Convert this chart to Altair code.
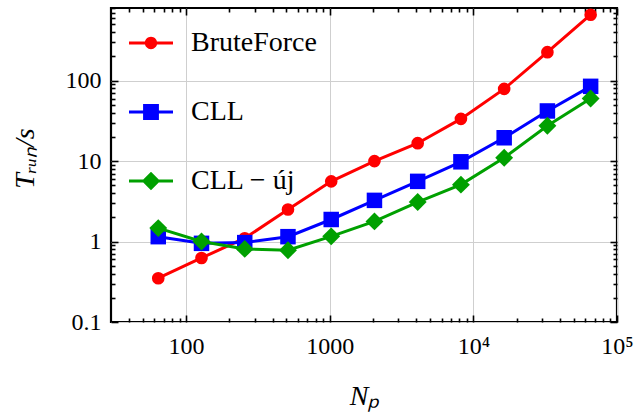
import altair as alt
import pandas as pd

# ---- data ----
n_p = [64, 128, 256, 512, 1024, 2048, 4096, 8192, 16384, 32768, 65536]
brute_force = [0.35, 0.625, 1.1, 2.5, 5.6, 10.0, 16.7, 33.5, 79.0, 226.0, 660.0]
cll = [1.15, 0.95, 0.97, 1.15, 1.88, 3.25, 5.6, 9.8, 19.5, 42.0, 85.0]
cll_uj = [1.47, 1.0, 0.81, 0.78, 1.16, 1.78, 3.1, 5.1, 11.0, 27.5, 60.0]

series_names = ["BruteForce", "CLL", "CLL − új"]
series_values = [brute_force, cll, cll_uj]
series_colors = ["#ff0000", "#0000ff", "#00a000"]
series_shapes = ["circle", "square", "diamond"]
marker_sizes = [160, 240, 320]

x_domain = [30, 100000]
y_domain = [0.1, 800]
x_major = [100, 1000, 10000, 100000]
x_major_labels = ["100", "1000", "10⁴", "10⁵"]
x_minor = [40, 50, 60, 70, 80, 90, 200, 300, 400, 500, 600, 700, 800, 900,
           2000, 3000, 4000, 5000, 6000, 7000, 8000, 9000,
           20000, 30000, 40000, 50000, 60000, 70000, 80000, 90000]
y_major = [0.1, 1, 10, 100]
y_major_labels = ["0.1", "1", "10", "100"]
y_minor = [0.2, 0.3, 0.4, 0.5, 0.6, 0.7, 0.8, 0.9,
           2, 3, 4, 5, 6, 7, 8, 9,
           20, 30, 40, 50, 60, 70, 80, 90,
           200, 300, 400, 500, 600, 700, 800]

# legend symbols: line segment + marker (custom SVG paths, unit = half symbol width)
legend_paths = [
    "M-1,-0.07L1,-0.07L1,0.07L-1,0.07Z"
    "M0.28,0A0.28,0.28 0 1,1 -0.28,0A0.28,0.28 0 1,1 0.28,0Z",
    "M-1,-0.07L1,-0.07L1,0.07L-1,0.07Z"
    "M-0.36,-0.36L0.36,-0.36L0.36,0.36L-0.36,0.36Z",
    "M-1,-0.07L1,-0.07L1,0.07L-1,0.07Z"
    "M0,-0.42L0.42,0L0,0.42L-0.42,0Z",
]

rows = []
for name, vals in zip(series_names, series_values):
    for n, t in zip(n_p, vals):
        rows.append({"n": n, "t": t, "series": name})
df = pd.DataFrame(rows)

FONT = "Liberation Serif"
xs = alt.Scale(type="log", domain=x_domain, nice=False)
ys = alt.Scale(type="log", domain=y_domain, nice=False)


def label_expr(values, labels):
    expr = "''"
    for v, l in reversed(list(zip(values, labels))):
        expr = f"abs(datum.value - {v}) < {v} * 1e-6 ? '{l}' : {expr}"
    return expr


def axis_layer(xaxis, yaxis):
    return alt.Chart(df).mark_point(opacity=0).encode(
        x=alt.X("n:Q", scale=xs, axis=xaxis),
        y=alt.Y("t:Q", scale=ys, axis=yaxis),
    )


def tick_axis(orient, values, size):
    return alt.Axis(orient=orient, values=values, tickSize=size, offset=-size,
                    tickColor="black", tickWidth=1.6, labels=False,
                    domain=False, grid=False, title=None)


grid_layer = axis_layer(
    alt.Axis(orient="bottom", values=x_major, grid=True, gridColor="#cfcfcf",
             gridWidth=1, ticks=False, labels=False, domain=False, title=None),
    alt.Axis(orient="left", values=y_major, grid=True, gridColor="#cfcfcf",
             gridWidth=1, ticks=False, labels=False, domain=False, title=None),
)

data_layers = []
for name, color, shape, msize in zip(series_names, series_colors,
                                     series_shapes, marker_sizes):
    base = alt.Chart(df).transform_filter(alt.datum.series == name)
    enc = dict(x=alt.X("n:Q", scale=xs, axis=None),
               y=alt.Y("t:Q", scale=ys, axis=None))
    data_layers.append(base.mark_line(color=color, strokeWidth=3).encode(**enc))
    data_layers.append(base.mark_point(shape=shape, filled=True, size=msize,
                                       color=color, opacity=1).encode(**enc))

main_axes = axis_layer(
    alt.Axis(orient="bottom", values=x_major,
             labelExpr=label_expr(x_major, x_major_labels),
             tickSize=7, offset=-7, tickColor="black", tickWidth=1.6,
             domain=False, grid=False, labelPadding=12,
             labelFontSize=24, labelColor="black", labelFlush=False,
             labelOverlap=False, title="Nₚ", titleFontSize=28,
             titleFontStyle="italic", titleFontWeight="normal",
             titleColor="black", titlePadding=24),
    alt.Axis(orient="left", values=y_major,
             labelExpr=label_expr(y_major, y_major_labels),
             tickSize=7, offset=-7, tickColor="black", tickWidth=1.6,
             domain=False, grid=False, labelPadding=10,
             labelFontSize=24, labelColor="black", labelFlush=False,
             labelOverlap=False, title="Tᵣᵤₙ/s",
             titleFontSize=28, titleFontStyle="italic",
             titleFontWeight="normal", titleColor="black", titlePadding=26,
             titleY=150),
)
minor_axes = axis_layer(tick_axis("bottom", x_minor, 4), tick_axis("left", y_minor, 4))
top_right_major = axis_layer(tick_axis("top", x_major, 7), tick_axis("right", y_major, 7))
top_right_minor = axis_layer(tick_axis("top", x_minor, 4), tick_axis("right", y_minor, 4))

legend_def = alt.Legend(orient="none", legendX=18, legendY=13, title=None,
                        labelFontSize=28, labelColor="black",
                        labelOffset=18, rowPadding=33, symbolStrokeWidth=0,
                        symbolSize=1936, padding=0)
legend_layer = alt.Chart(df).transform_filter("false").mark_point(
    filled=True, size=1936, opacity=1).encode(
    color=alt.Color("series:N", scale=alt.Scale(domain=series_names,
                                                range=series_colors),
                    legend=legend_def),
    shape=alt.Shape("series:N", scale=alt.Scale(domain=series_names,
                                                range=legend_paths),
                    legend=legend_def),
)

chart = alt.layer(
    grid_layer, *data_layers, main_axes, minor_axes, top_right_major,
    top_right_minor, legend_layer
).resolve_axis(x="independent", y="independent").properties(
    width=506, height=314,
    padding={"left": 111, "top": 8, "right": 19, "bottom": 98},
    autosize=alt.AutoSizeParams(type="none"),
    background="white",
).configure(font=FONT).configure_axis(
    labelFont=FONT, titleFont=FONT
).configure_legend(labelFont=FONT).configure_view(stroke="black", strokeWidth=2.2)

chart.save("out.html", embed_options={"renderer": "svg", "actions": False})
